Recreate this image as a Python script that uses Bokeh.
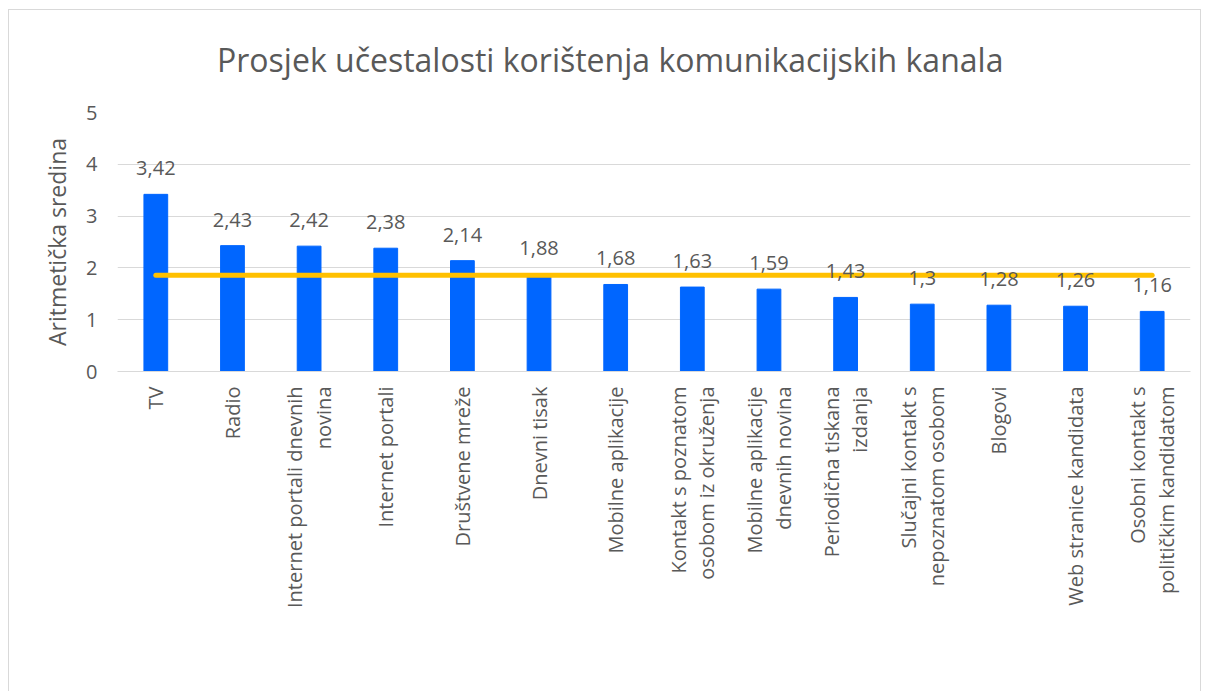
import math
from bokeh.plotting import figure
from bokeh.layouts import column
from bokeh.models import ColumnDataSource, FactorRange, Range1d, Legend, LegendItem, LabelSet, FixedTicker, Div
from bokeh.core.properties import value
from bokeh.embed import file_html
from bokeh.resources import INLINE

title_text = "Prosjek učestalosti korištenja komunikacijskih kanala"
categories = ["TV", "Radio", "Internet portali dnevnih\nnovina", "Internet portali",
              "Društvene mreže", "Dnevni tisak", "Mobilne aplikacije",
              "Kontakt s poznatom\nosobom iz okruženja", "Mobilne aplikacije\ndnevnih novina",
              "Periodična tiskana\nizdanja", "Slučajni kontakt s\nnepoznatom osobom",
              "Blogovi", "Web stranice kandidata", "Osobni kontakt s\npolitičkim kandidatom"]
values = [3.42, 2.43, 2.42, 2.38, 2.14, 1.88, 1.68, 1.63, 1.59, 1.43, 1.3, 1.28, 1.26, 1.16]
average = 1.86
y_ticks = [0, 1, 2, 3, 4, 5]

FONT = "Open Sans"
GRAY = "#595959"

src = ColumnDataSource(dict(
    x=categories, y=values,
    lbl=[str(v).replace(".", ",") for v in values],
))

p = figure(x_range=FactorRange(*categories, range_padding=0), y_range=Range1d(0, 5),
           frame_width=1073, frame_height=259, output_backend="svg", toolbar_location=None,
           min_border_left=108, min_border_right=10, min_border_top=14, min_border_bottom=0)

bars = p.vbar(x="x", top="y", width=0.31, source=src, color="#0066FF")
line = p.line(x=[categories[0], categories[-1]], y=[average, average],
              line_color="#FFC000", line_width=5, line_cap="round")

labels = LabelSet(x="x", y="y", text="lbl", source=src, text_align="center",
                  text_baseline="bottom", y_offset=19, text_font=value(FONT),
                  text_font_size="20px", text_color=GRAY)
p.add_layout(labels)

p.outline_line_color = None
p.background_fill_color = None
p.border_fill_color = "white"

p.xgrid.grid_line_color = None
p.ygrid.grid_line_color = "#D9D9D9"
p.ygrid.grid_line_width = 1
p.yaxis.ticker = FixedTicker(ticks=y_ticks)

p.yaxis.axis_line_color = None
p.yaxis.major_tick_line_color = None
p.yaxis.minor_tick_line_color = None
p.yaxis.major_label_text_font = FONT
p.yaxis.major_label_text_font_size = "20px"
p.yaxis.major_label_text_color = GRAY
p.yaxis.major_label_standoff = 14
p.yaxis.axis_label = "Aritmetička sredina"
p.yaxis.axis_label_text_font = FONT
p.yaxis.axis_label_text_font_size = "23px"
p.yaxis.axis_label_text_font_style = "normal"
p.yaxis.axis_label_text_color = GRAY
p.yaxis.axis_label_standoff = 10

p.xaxis.axis_line_color = "#D9D9D9"
p.xaxis.axis_line_width = 1
p.xaxis.major_tick_line_color = None
p.xaxis.minor_tick_line_color = None
p.xaxis.major_label_orientation = math.pi / 2
p.xaxis.major_label_text_font = FONT
p.xaxis.major_label_text_font_size = "20px"
p.xaxis.major_label_text_color = GRAY
p.xaxis.major_label_text_line_height = 1.05
p.xaxis.major_label_standoff = 9
p.xaxis.major_label_text_align = "center"

legend = Legend(items=[LegendItem(label="Aritmetička sredina", renderers=[bars]),
                       LegendItem(label="Prosjek učestalosti korištenja", renderers=[line])],
                orientation="horizontal", location=(174, 0),
                label_text_font=FONT, label_text_font_size="16px", label_text_color=GRAY,
                glyph_width=40, glyph_height=14, label_standoff=4, spacing=30,
                border_line_color=None, background_fill_alpha=0, margin=8, padding=0)
p.add_layout(legend, "below")

title = Div(text='<span style="position:relative; left:208px; top:6px">%s</span>' % title_text,
            width=1191, height=88, margin=0,
            styles={"font-family": FONT, "font-size": "32px", "color": GRAY,
                    "line-height": "88px", "white-space": "nowrap",
                    "background": "white", "overflow": "visible"})

layout = column(title, p, spacing=0,
                styles={"border": "1px solid #D9D9D9", "margin-left": "8px",
                        "margin-top": "9px", "background": "white"})

with open("out.html", "w", encoding="utf-8") as f:
    f.write(file_html(layout, INLINE))
